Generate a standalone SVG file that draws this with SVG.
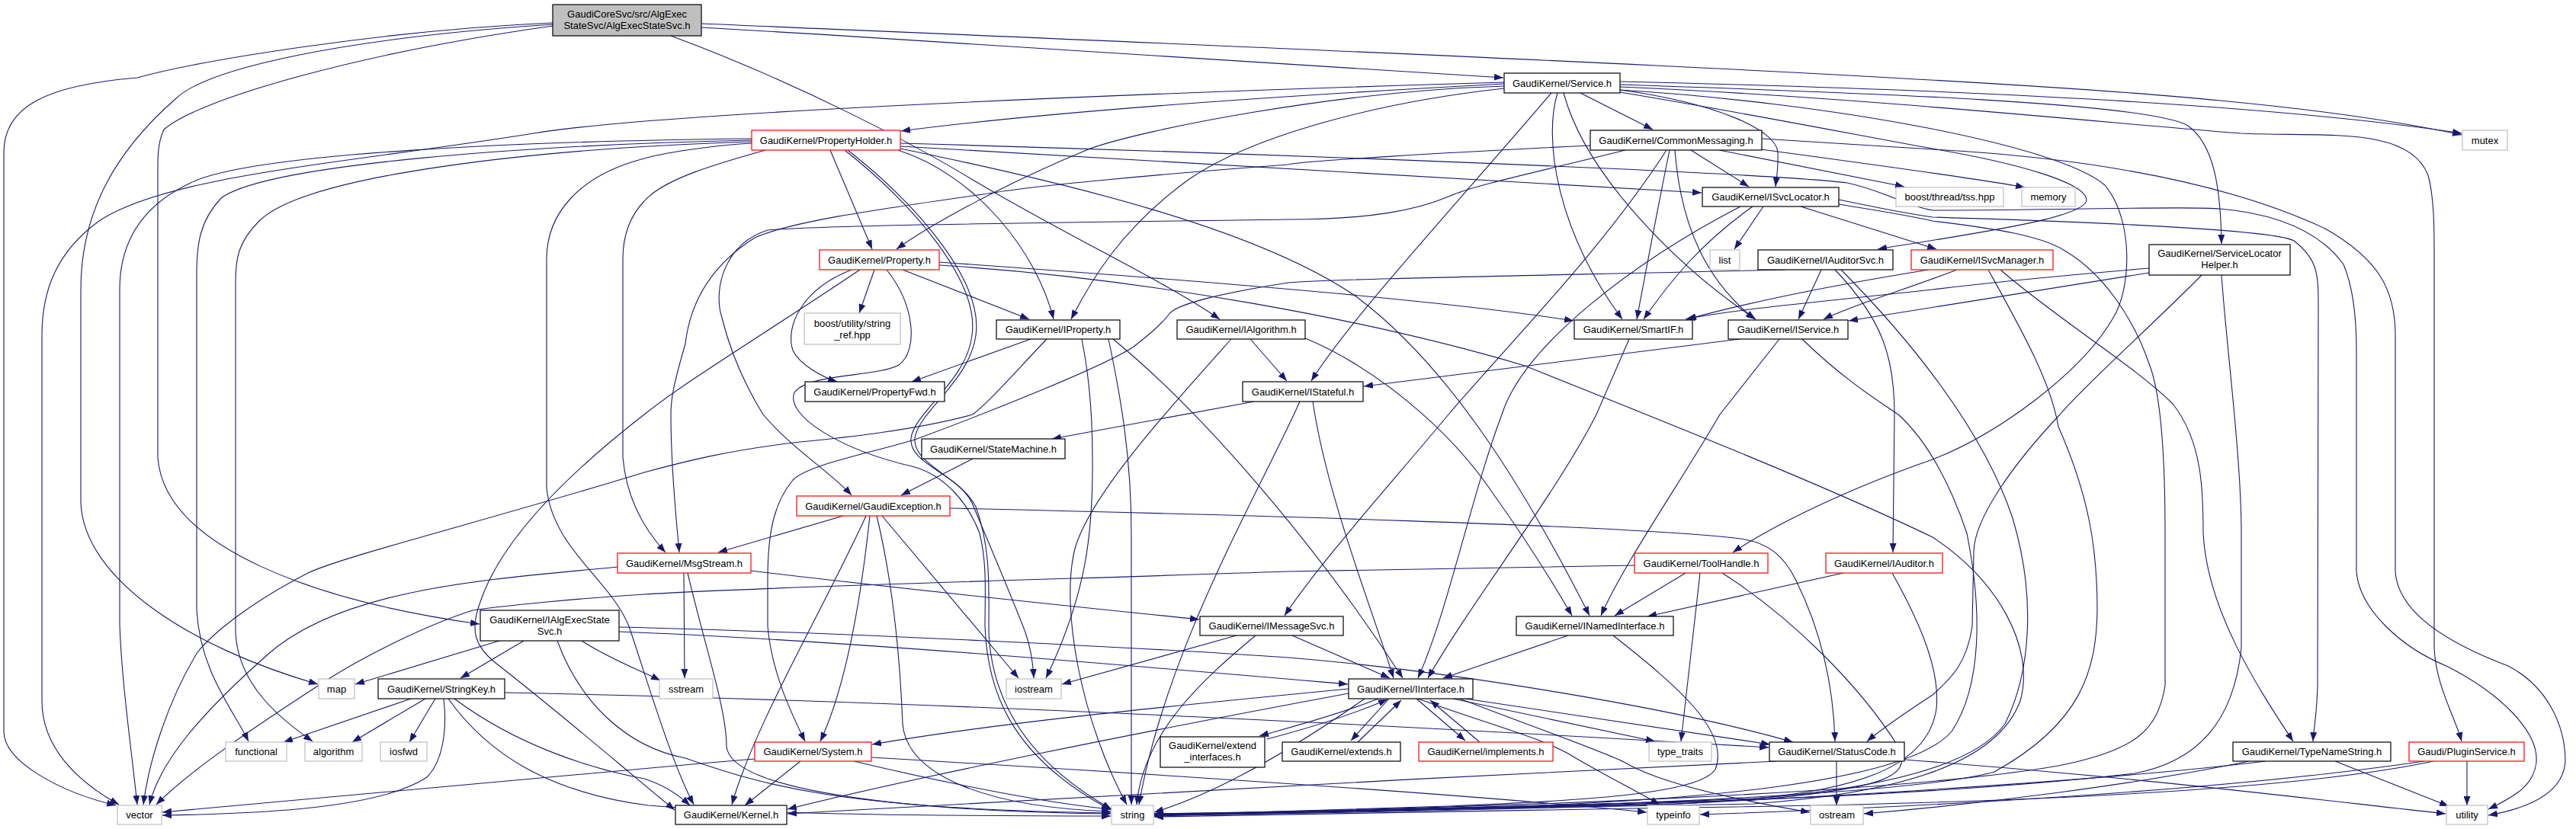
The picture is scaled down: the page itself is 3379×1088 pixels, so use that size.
<svg xmlns="http://www.w3.org/2000/svg" width="3379" height="1088" viewBox="0 0 3379 1088">
<defs>
<marker id="ah" markerUnits="userSpaceOnUse" markerWidth="12" markerHeight="9" viewBox="0 0 12 9" refX="12" refY="4.5" orient="auto">
<path d="M0,0 L12,4.5 L0,9 z" fill="#191970"/>
</marker>
<style>
.e{fill:none;stroke:#191970;stroke-width:1.1;marker-end:url(#ah)}
.nb{fill:#ffffff;stroke:#000000;stroke-width:1.2}
.nr{fill:#ffffff;stroke:#ff0000;stroke-width:1.2}
.ng{fill:#ffffff;stroke:#bfbfbf;stroke-width:1.2}
.nroot{fill:#bfbfbf;stroke:#000000;stroke-width:1.2}
text{font-family:"Liberation Sans",Arial,sans-serif;font-size:13px;fill:#000000;text-anchor:middle}
</style>
</defs>
<rect x="0" y="0" width="3379" height="1088" fill="#ffffff"/>
<g id="edges">
<path class="e" d="M920,36 C1300,58 1700,84 1972,102"/>
<path class="e" d="M920,31 C1600,60 2600,100 2912,132 C3050,145 3150,160 3229,177"/>
<path class="e" d="M880,47 C1050,110 1200,190 1276,236 C1400,310 1530,370 1600,419"/>
<path class="e" d="M725,30 C500,40 260,80 180,102 C60,112 5,140 5,200 L5,960 C5,1000 80,1040 152,1057"/>
<path class="e" d="M725,32 C450,50 270,90 230,130 C150,200 106,280 106,380 L106,660 C110,760 250,850 417,898"/>
<path class="e" d="M725,34 C470,70 260,130 215,170 C208,185 207,200 207,220 L207,600 C215,720 420,790 629,819"/>
<path class="e" d="M2073,122 L2168,170"/>
<path class="e" d="M2125,118 C2250,135 2330,170 2332,200 C2333,220 2330,235 2329,245"/>
<path class="e" d="M2043,122 C2025,180 2040,300 2128,419"/>
<path class="e" d="M2051,122 C2080,230 2200,350 2303,419"/>
<path class="e" d="M2035,122 C1900,280 1770,420 1720,500"/>
<path class="e" d="M1973,116 C1800,135 1640,180 1560,235 C1470,300 1430,370 1405,419"/>
<path class="e" d="M1973,113 C1750,120 1500,170 1430,195 C1320,240 1220,295 1176,327"/>
<path class="e" d="M1973,110 C1600,130 1350,150 1182,172"/>
<path class="e" d="M1973,108 C1400,125 850,150 700,175 C450,215 220,230 130,290 C75,330 55,380 55,440 L55,920 C55,980 100,1025 156,1056"/>
<path class="e" d="M2125,107 C2600,118 3000,140 3229,175"/>
<path class="e" d="M2125,111 C2450,122 2820,135 2870,165 C2905,190 2913,250 2914,320"/>
<path class="e" d="M2125,114 C2450,128 2800,165 2939,175 C3050,180 3160,165 3185,230 C3193,260 3193,300 3193,330 L3193,850 C3195,900 3220,940 3229,973"/>
<path class="e" d="M2125,118 C2400,135 2700,190 2761,243 C2800,290 2795,380 2772,417 C2730,490 2620,570 2535,603 C2400,650 2310,700 2273,725"/>
<path class="e" d="M2125,121 C2300,150 2450,180 2540,196 C2650,215 2735,240 2737,262 C2738,285 2600,305 2463,327"/>
<path class="e" d="M1089,197 L1144,327"/>
<path class="e" d="M1178,197 C1280,230 1360,330 1382,419"/>
<path class="e" d="M986,186 C700,195 400,230 340,290 C312,318 309,340 309,370 L309,830 C312,900 370,945 410,973"/>
<path class="e" d="M986,184 C700,190 350,215 290,260 C262,290 258,320 258,360 L258,800 C262,880 305,930 326,973"/>
<path class="e" d="M986,182 C700,185 330,200 250,240 C175,275 157,330 157,380 L157,820 C160,900 172,980 180,1056"/>
<path class="e" d="M1004,197 C940,215 870,235 845,264 C825,285 817,310 817,340 L817,600 C822,660 850,700 873,725"/>
<path class="e" d="M986,188 C950,190 880,198 845,208 C760,230 717,280 717,340 L717,640 C725,720 800,760 825,822 C845,880 880,1000 910,1056"/>
<path class="e" d="M1108,197 C1200,270 1285,370 1275,440 C1268,500 1200,540 1195,575 C1192,610 1255,620 1275,660 C1300,720 1330,790 1345,830 C1352,850 1355,870 1356,890"/>
<path class="e" d="M1112,197 C1205,270 1290,370 1280,440 C1272,500 1205,540 1200,575 C1197,610 1260,625 1280,665 C1300,720 1297,770 1297,830 C1300,900 1330,990 1458,1062"/>
<path class="e" d="M1181,192 C1400,203 1700,220 2232,253"/>
<path class="e" d="M1181,195 C1400,240 1650,300 1780,390 C1900,480 2000,640 2085,808"/>
<path class="e" d="M1181,188 C1600,200 2300,225 2423,240 C2470,250 2500,270 2535,276 C2700,276 2870,270 2912,274 C2980,280 3040,300 3074,347 C3088,380 3091,420 3091,460 L3091,750 C3095,800 3150,850 3209,874 C3280,910 3330,960 3327,1000 C3324,1030 3300,1045 3264,1062"/>
<path class="e" d="M2311,182 C2400,187 2480,193 2535,196 C2700,205 2900,230 3050,300 C3120,340 3142,380 3142,440 L3142,750 C3145,800 3200,840 3290,874 C3340,900 3365,950 3365,1000 C3362,1040 3320,1060 3264,1070"/>
<path class="e" d="M1147,354 L1127,411"/>
<path class="e" d="M1184,354 L1350,419"/>
<path class="e" d="M1117,354 C1050,380 1030,430 1040,460 C1050,480 1080,495 1098,501"/>
<path class="e" d="M1163,354 C1200,400 1205,460 1179,479 C1150,495 1060,490 1042,515 C1030,545 1100,590 1200,613 C1240,625 1270,660 1285,700 C1295,740 1292,780 1292,822 C1295,900 1320,990 1457,1063"/>
<path class="e" d="M1128,354 C1000,440 900,500 845,544 C760,610 660,700 630,790 C615,830 625,850 650,870 C740,940 820,1010 885,1063"/>
<path class="e" d="M1232,344 C1600,370 1900,395 2064,421"/>
<path class="e" d="M1232,348 C1500,365 1800,420 2000,480 C2200,560 2400,640 2535,705 C2620,760 2670,850 2650,920 C2620,1000 2500,1040 2300,1055 C2000,1062 1700,1066 1514,1069"/>
<path class="e" d="M1352,445 L1196,501"/>
<path class="e" d="M1373,445 C1330,490 1300,525 1276,544 C1200,565 1100,575 1050,580 C960,590 900,605 845,620 C650,680 450,730 404,752 C330,790 280,830 259,856 C220,920 195,1000 188,1056"/>
<path class="e" d="M1419,445 C1430,500 1433,560 1433,600 C1434,700 1425,780 1372,890"/>
<path class="e" d="M1454,445 C1470,520 1484,600 1484,700 L1484,1056"/>
<path class="e" d="M1460,445 C1600,560 1750,750 1840,890"/>
<path class="e" d="M1640,445 L1688,500"/>
<path class="e" d="M1710,443 C1800,480 1900,560 1960,650 C2010,720 2040,770 2062,808"/>
<path class="e" d="M1615,445 C1530,540 1430,650 1410,720 C1390,800 1420,950 1478,1056"/>
<path class="e" d="M1645,527 L1380,576"/>
<path class="e" d="M1722,527 C1740,650 1800,800 1828,890"/>
<path class="e" d="M1705,527 C1650,650 1530,850 1494,1056"/>
<path class="e" d="M1276,602 L1182,650"/>
<path class="e" d="M1106,677 L942,725"/>
<path class="e" d="M1136,677 C1080,800 990,950 960,1056"/>
<path class="e" d="M1141,677 C1130,780 1110,900 1076,973"/>
<path class="e" d="M1150,677 C1170,760 1180,850 1184,950 C1190,1020 1300,1060 1457,1065"/>
<path class="e" d="M1157,677 L1336,890"/>
<path class="e" d="M1246,667 C1600,675 2150,690 2283,707 C2320,712 2340,730 2355,760 C2390,830 2405,900 2407,973"/>
<path class="e" d="M897,752 L898,890"/>
<path class="e" d="M902,752 C925,850 953,930 953,980 C960,1040 1200,1065 1457,1068"/>
<path class="e" d="M985,749 C1200,775 1400,795 1573,813"/>
<path class="e" d="M810,744 C650,760 450,770 350,860 C260,940 210,1000 196,1056"/>
<path class="e" d="M1622,834 L1393,898"/>
<path class="e" d="M1647,834 C1580,890 1500,960 1491,1056"/>
<path class="e" d="M1695,834 L1823,890"/>
<path class="e" d="M2218,197 L2294,245"/>
<path class="e" d="M2190,197 C2175,270 2160,350 2147,419"/>
<path class="e" d="M2197,197 C2205,300 2240,370 2302,419"/>
<path class="e" d="M2255,197 L2498,245"/>
<path class="e" d="M2310,196 C2450,215 2600,235 2656,246"/>
<path class="e" d="M2086,191 C1900,200 1700,212 1690,216 C1500,230 1350,245 1303,253 C1150,275 1040,290 990,312 C930,350 905,400 899,451 C885,500 880,520 880,544 C880,620 888,690 891,725"/>
<path class="e" d="M2132,197 C2020,225 1933,243 1900,258 C1860,275 1800,288 1690,288 C1400,292 1100,295 1007,302 C950,320 935,380 947,417 C960,470 980,510 1001,544 C1040,590 1090,620 1117,650"/>
<path class="e" d="M2186,197 C2100,330 1980,450 1900,544 C1820,640 1730,740 1685,808"/>
<path class="e" d="M2283,271 C2150,340 2000,450 1970,544 C1930,650 1900,800 1860,890"/>
<path class="e" d="M2299,271 C2230,320 2190,370 2156,419"/>
<path class="e" d="M2313,271 L2275,327"/>
<path class="e" d="M2362,271 L2540,327"/>
<path class="e" d="M2412,262 C2450,270 2500,280 2535,285 C2700,290 2980,300 3009,316 C3040,340 3041,360 3041,400 L3040,900 C3039,940 3035,955 3034,973"/>
<path class="e" d="M2412,268 C2460,276 2500,282 2535,290 C2620,300 2680,310 2710,330 C2760,360 2800,420 2820,480 C2835,520 2840,600 2840,700 L2840,900 C2830,960 2800,985 2700,1005 C2500,1040 2000,1060 1514,1068"/>
<path class="e" d="M2389,354 L2359,419"/>
<path class="e" d="M2407,354 C2470,420 2485,470 2485,544 L2483,725"/>
<path class="e" d="M2415,354 C2500,440 2600,560 2640,680 C2670,780 2665,880 2630,950 C2580,1020 2400,1045 2200,1055 C1900,1065 1700,1068 1514,1070"/>
<path class="e" d="M2342,354 C2000,362 1750,366 1690,371 C1600,385 1540,400 1533,413 C1520,430 1500,445 1487,455 C1450,480 1300,540 1200,577 C1140,595 1060,610 1040,630 C1015,660 1007,700 1007,760 L1007,822 C1012,880 1035,930 1056,973"/>
<path class="e" d="M2530,354 C2400,375 2300,395 2213,419"/>
<path class="e" d="M2567,354 C2500,380 2430,400 2392,419"/>
<path class="e" d="M2608,354 C2650,430 2690,500 2700,560 C2740,650 2751,720 2751,800 C2750,880 2730,950 2616,1013 C2500,1045 2000,1064 1514,1069"/>
<path class="e" d="M2624,354 C2700,420 2800,480 2850,530 C2890,580 2890,650 2890,700 C2895,800 2960,900 3008,973"/>
<path class="e" d="M2819,352 C2700,362 2600,372 2535,380 C2400,395 2280,405 2211,419"/>
<path class="e" d="M2819,358 L2425,421"/>
<path class="e" d="M2888,361 C2820,430 2740,500 2702,544 C2640,610 2590,680 2589,724 L2587,822 C2580,870 2560,890 2535,912 C2500,935 2470,955 2449,973"/>
<path class="e" d="M2914,361 C2920,450 2940,600 2940,700 L2940,850 C2930,950 2880,1000 2800,1015 C2500,1050 2000,1062 1514,1068"/>
<path class="e" d="M2137,445 L2094,544 C2040,650 1930,790 1873,890"/>
<path class="e" d="M2282,445 L1789,507"/>
<path class="e" d="M2334,445 L2256,544 C2200,640 2130,740 2100,808"/>
<path class="e" d="M2364,445 C2420,500 2470,530 2490,544 C2530,580 2560,640 2580,700 C2600,800 2600,900 2560,960 C2500,1030 2200,1050 2000,1058 C1800,1064 1650,1068 1514,1070"/>
<path class="e" d="M1808,917 C1750,940 1690,955 1652,966"/>
<path class="e" d="M1662,970 C1720,955 1780,935 1820,918"/>
<path class="e" d="M1822,917 L1772,972"/>
<path class="e" d="M1781,974 L1838,919"/>
<path class="e" d="M1858,917 L1922,972"/>
<path class="e" d="M1941,974 L1876,919"/>
<path class="e" d="M1769,910 C1500,960 1200,1020 1033,1062"/>
<path class="e" d="M1769,904 C1500,930 1300,950 1144,977"/>
<path class="e" d="M1790,917 C1700,980 1600,1040 1514,1066"/>
<path class="e" d="M1906,917 L2171,973"/>
<path class="e" d="M1860,917 C1950,950 2030,970 2067,995 C2110,1020 2150,1040 2177,1056"/>
<path class="e" d="M1915,917 C2000,950 2100,985 2130,1000 C2180,1030 2290,1052 2374,1066"/>
<path class="e" d="M1922,917 L2322,977"/>
<path class="e" d="M2057,834 L1893,890"/>
<path class="e" d="M2116,834 C2200,900 2270,960 2250,1010 C2230,1040 2100,1050 1900,1058 C1750,1063 1600,1068 1514,1070"/>
<path class="e" d="M2211,752 L2118,808"/>
<path class="e" d="M2230,752 L2205,973"/>
<path class="e" d="M2259,752 C2350,810 2440,900 2490,980 C2510,1020 2470,1035 2300,1050 C2000,1060 1700,1066 1514,1070"/>
<path class="e" d="M2144,742 C1900,745 1700,750 1690,750 C1400,760 1000,770 845,780 C750,786 660,795 620,801 C560,820 480,860 431,891 C340,950 250,1010 205,1056"/>
<path class="e" d="M2418,752 L2161,809"/>
<path class="e" d="M2482,752 C2520,820 2545,880 2540,930 C2530,1000 2450,1035 2300,1048 C2000,1060 1700,1066 1514,1070"/>
<path class="e" d="M655,841 L466,898"/>
<path class="e" d="M687,841 L604,890"/>
<path class="e" d="M812,823 C1100,830 1500,850 1690,863 C1900,880 2200,930 2352,974"/>
<path class="e" d="M812,829 C1100,840 1500,875 1768,898"/>
<path class="e" d="M731,841 C760,920 820,980 899,995 C1000,1030 1100,1062 1457,1067"/>
<path class="e" d="M763,841 C800,865 840,880 866,893"/>
<path class="e" d="M539,917 L372,974"/>
<path class="e" d="M558,917 L462,974"/>
<path class="e" d="M571,917 L537,974"/>
<path class="e" d="M582,917 C587,960 580,1000 560,1020 C500,1060 350,1068 213,1070"/>
<path class="e" d="M588,917 C640,990 720,1040 850,1057 C1000,1070 1300,1071 1457,1071"/>
<path class="e" d="M596,917 C680,980 780,1010 845,1022 C870,1030 890,1043 905,1057"/>
<path class="e" d="M662,909 C1200,920 1800,950 2320,981"/>
<path class="e" d="M990,996 C700,1020 400,1050 213,1066"/>
<path class="e" d="M1050,999 L977,1057"/>
<path class="e" d="M1120,999 C1250,1030 1380,1055 1457,1062"/>
<path class="e" d="M1143,994 C1500,1015 1900,1040 2160,1066"/>
<path class="e" d="M2330,999 C1900,1020 1300,1050 1033,1068"/>
<path class="e" d="M2409,999 L2409,1057"/>
<path class="e" d="M2498,997 C2800,1020 3000,1045 3208,1068"/>
<path class="e" d="M2972,999 C2800,1020 2500,1040 2200,1055 C1900,1064 1700,1068 1514,1071"/>
<path class="e" d="M3063,999 L3212,1058"/>
<path class="e" d="M2950,999 C2800,1030 2600,1055 2445,1068"/>
<path class="e" d="M3236,999 L3236,1057"/>
<path class="e" d="M3192,999 C3000,1040 2600,1055 2200,1060 C1900,1066 1700,1070 1514,1072"/>
<path class="e" d="M3180,999 C2900,1040 2500,1060 2230,1069"/>
</g>
<g id="n_root"><rect class="nroot" x="725" y="6" width="195" height="41"/><text x="822.5" y="22.5">GaudiCoreSvc/src/AlgExec</text><text x="822.5" y="37.5">StateSvc/AlgExecStateSvc.h</text></g>
<g id="n_service"><rect class="nb" x="1973" y="96" width="152" height="26"/><text x="2049" y="113.5">GaudiKernel/Service.h</text></g>
<g id="n_propertyholder"><rect class="nr" x="986" y="171" width="195" height="26"/><text x="1083.5" y="188.5">GaudiKernel/PropertyHolder.h</text></g>
<g id="n_commonmessaging"><rect class="nb" x="2086" y="171" width="225" height="26"/><text x="2198.5" y="188.5">GaudiKernel/CommonMessaging.h</text></g>
<g id="n_mutex"><rect class="ng" x="3230" y="171" width="59" height="26"/><text x="3259.5" y="188.5">mutex</text></g>
<g id="n_isvclocator"><rect class="nb" x="2233" y="246" width="179" height="25"/><text x="2322.5" y="263">GaudiKernel/ISvcLocator.h</text></g>
<g id="n_tss"><rect class="ng" x="2487" y="246" width="141" height="25"/><text x="2557.5" y="263">boost/thread/tss.hpp</text></g>
<g id="n_memory"><rect class="ng" x="2652" y="246" width="70" height="25"/><text x="2687" y="263">memory</text></g>
<g id="n_property"><rect class="nr" x="1075" y="328" width="157" height="26"/><text x="1153.5" y="345.5">GaudiKernel/Property.h</text></g>
<g id="n_list"><rect class="ng" x="2243" y="328" width="39" height="26"/><text x="2262.5" y="345.5">list</text></g>
<g id="n_iauditorsvc"><rect class="nb" x="2306" y="328" width="177" height="26"/><text x="2394.5" y="345.5">GaudiKernel/IAuditorSvc.h</text></g>
<g id="n_isvcmanager"><rect class="nr" x="2507" y="328" width="186" height="26"/><text x="2600" y="345.5">GaudiKernel/ISvcManager.h</text></g>
<g id="n_servicelocatorhelper"><rect class="nb" x="2819" y="321" width="185" height="40"/><text x="2911.5" y="337">GaudiKernel/ServiceLocator</text><text x="2911.5" y="352">Helper.h</text></g>
<g id="n_stringref"><rect class="ng" x="1055" y="411" width="126" height="41"/><text x="1118" y="428.5">boost/utility/string</text><text x="1118" y="443.5">_ref.hpp</text></g>
<g id="n_iproperty"><rect class="nb" x="1307" y="420" width="162" height="25"/><text x="1388" y="437">GaudiKernel/IProperty.h</text></g>
<g id="n_ialgorithm"><rect class="nb" x="1544" y="420" width="168" height="25"/><text x="1628" y="437">GaudiKernel/IAlgorithm.h</text></g>
<g id="n_smartif"><rect class="nb" x="2065" y="420" width="155" height="25"/><text x="2142.5" y="437">GaudiKernel/SmartIF.h</text></g>
<g id="n_iservice"><rect class="nb" x="2267" y="420" width="157" height="25"/><text x="2345.5" y="437">GaudiKernel/IService.h</text></g>
<g id="n_propertyfwd"><rect class="nb" x="1056" y="501" width="183" height="26"/><text x="1147.5" y="518.5">GaudiKernel/PropertyFwd.h</text></g>
<g id="n_istateful"><rect class="nb" x="1630" y="501" width="158" height="26"/><text x="1709" y="518.5">GaudiKernel/IStateful.h</text></g>
<g id="n_statemachine"><rect class="nb" x="1209" y="576" width="188" height="26"/><text x="1303" y="593.5">GaudiKernel/StateMachine.h</text></g>
<g id="n_gaudiexception"><rect class="nr" x="1045" y="651" width="201" height="26"/><text x="1145.5" y="668.5">GaudiKernel/GaudiException.h</text></g>
<g id="n_msgstream"><rect class="nr" x="810" y="726" width="175" height="26"/><text x="897.5" y="743.5">GaudiKernel/MsgStream.h</text></g>
<g id="n_toolhandle"><rect class="nr" x="2144" y="726" width="175" height="26"/><text x="2231.5" y="743.5">GaudiKernel/ToolHandle.h</text></g>
<g id="n_iauditor"><rect class="nr" x="2395" y="726" width="153" height="26"/><text x="2471.5" y="743.5">GaudiKernel/IAuditor.h</text></g>
<g id="n_ialgexecstatesvc"><rect class="nb" x="630" y="801" width="182" height="40"/><text x="721" y="817.5">GaudiKernel/IAlgExecState</text><text x="721" y="832.5">Svc.h</text></g>
<g id="n_imessagesvc"><rect class="nb" x="1574" y="809" width="188" height="25"/><text x="1668" y="826">GaudiKernel/IMessageSvc.h</text></g>
<g id="n_inamedinterface"><rect class="nb" x="1989" y="809" width="206" height="25"/><text x="2092" y="826">GaudiKernel/INamedInterface.h</text></g>
<g id="n_map"><rect class="ng" x="418" y="891" width="47" height="26"/><text x="441.5" y="908.5">map</text></g>
<g id="n_stringkey"><rect class="nb" x="496" y="891" width="166" height="26"/><text x="579" y="908.5">GaudiKernel/StringKey.h</text></g>
<g id="n_sstream"><rect class="ng" x="865" y="891" width="70" height="26"/><text x="900" y="908.5">sstream</text></g>
<g id="n_iostream"><rect class="ng" x="1320" y="891" width="72" height="26"/><text x="1356" y="908.5">iostream</text></g>
<g id="n_iinterface"><rect class="nb" x="1769" y="891" width="163" height="26"/><text x="1850.5" y="908.5">GaudiKernel/IInterface.h</text></g>
<g id="n_functional"><rect class="ng" x="296" y="974" width="80" height="25"/><text x="336" y="991">functional</text></g>
<g id="n_algorithm"><rect class="ng" x="400" y="974" width="75" height="25"/><text x="437.5" y="991">algorithm</text></g>
<g id="n_iosfwd"><rect class="ng" x="499" y="974" width="61" height="25"/><text x="529.5" y="991">iosfwd</text></g>
<g id="n_system"><rect class="nr" x="990" y="974" width="153" height="25"/><text x="1066.5" y="991">GaudiKernel/System.h</text></g>
<g id="n_extendinterfaces"><rect class="nb" x="1522" y="967" width="137" height="40"/><text x="1590.5" y="982.5">GaudiKernel/extend</text><text x="1590.5" y="997.5">_interfaces.h</text></g>
<g id="n_extends"><rect class="nb" x="1682" y="974" width="155" height="25"/><text x="1759.5" y="991">GaudiKernel/extends.h</text></g>
<g id="n_implements"><rect class="nr" x="1861" y="974" width="176" height="25"/><text x="1949" y="991">GaudiKernel/implements.h</text></g>
<g id="n_typetraits"><rect class="ng" x="2163" y="974" width="82" height="25"/><text x="2204" y="991">type_traits</text></g>
<g id="n_statuscode"><rect class="nb" x="2321" y="974" width="177" height="25"/><text x="2409.5" y="991">GaudiKernel/StatusCode.h</text></g>
<g id="n_typenamestring"><rect class="nb" x="2929" y="974" width="207" height="25"/><text x="3032.5" y="991">GaudiKernel/TypeNameString.h</text></g>
<g id="n_pluginservice"><rect class="nr" x="3160" y="974" width="151" height="25"/><text x="3235.5" y="991">Gaudi/PluginService.h</text></g>
<g id="n_vector"><rect class="ng" x="154" y="1057" width="58" height="25"/><text x="183" y="1074">vector</text></g>
<g id="n_kernel"><rect class="nb" x="886" y="1057" width="146" height="25"/><text x="959" y="1074">GaudiKernel/Kernel.h</text></g>
<g id="n_string"><rect class="ng" x="1458" y="1057" width="55" height="25"/><text x="1485.5" y="1074">string</text></g>
<g id="n_typeinfo"><rect class="ng" x="2161" y="1057" width="68" height="25"/><text x="2195" y="1074">typeinfo</text></g>
<g id="n_ostream"><rect class="ng" x="2375" y="1057" width="69" height="25"/><text x="2409.5" y="1074">ostream</text></g>
<g id="n_utility"><rect class="ng" x="3209" y="1057" width="54" height="25"/><text x="3236" y="1074">utility</text></g>
</svg>
